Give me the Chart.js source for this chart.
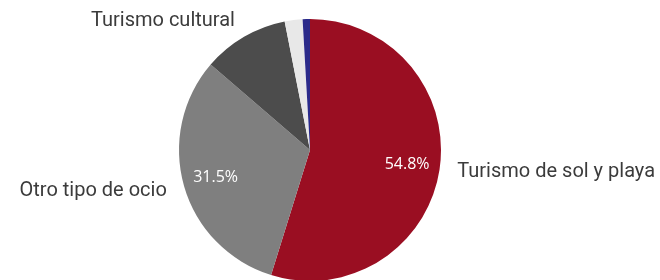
<!DOCTYPE html>
<html>
<head>
<meta charset="utf-8">
<script src="https://cdn.jsdelivr.net/npm/chart.js@4"></script>
<style>
  html, body { margin: 0; padding: 0; background: #fff; overflow: hidden; }
  #wrap { width: 660px; height: 300px; position: relative; }
</style>
</head>
<body>
<div id="wrap"><canvas id="pie"></canvas></div>
<script>
// Datos del grafico
const categorias = ["Turismo de sol y playa", "Otro tipo de ocio", "Turismo cultural", "Otros", "Negocios"];
const valores = [54.8, 31.5, 10.6, 2.2, 0.9];
const colores = ["#9a0e22", "#7f7f7f", "#4c4c4c", "#e8e8e8", "#2b2a8a"];
// que etiquetas se muestran (nombre / porcentaje)
const mostrarNombre = [true, true, true, false, false];
const mostrarPct = [true, true, false, false, false];

// Plugin para dibujar las etiquetas alrededor y dentro del pastel
const etiquetas = {
    id: 'etiquetas',
    afterDatasetsDraw(chart) {
        const ctx = chart.ctx;
        const arcs = chart.getDatasetMeta(0).data;
        arcs.forEach((arc, i) => {
            const p = arc.getProps(['x', 'y', 'startAngle', 'endAngle', 'outerRadius']);
            const mid = (p.startAngle + p.endAngle) / 2;
            ctx.save();
            if (mostrarPct[i]) {
                const r = p.outerRadius * 0.75;
                ctx.fillStyle = '#ffffff';
                ctx.font = '16px "Open Sans"';
                ctx.textAlign = 'center';
                ctx.textBaseline = 'middle';
                ctx.fillText(valores[i].toFixed(1) + '%', p.x + Math.cos(mid) * r, p.y + Math.sin(mid) * r);
            }
            if (mostrarNombre[i]) {
                const r = p.outerRadius + 18;
                const x = p.x + Math.cos(mid) * r;
                ctx.fillStyle = '#3b3b3b';
                ctx.font = '20px Roboto';
                ctx.textAlign = x > p.x ? 'left' : 'right';
                ctx.textBaseline = 'middle';
                ctx.fillText(categorias[i], x, p.y + Math.sin(mid) * r);
            }
            ctx.restore();
        });
    }
};

window.onload = function () {
    new Chart(document.getElementById('pie'), {
        type: 'pie',
        data: {
            labels: categorias,
            datasets: [{
                data: valores,
                backgroundColor: colores,
                borderWidth: 0
            }]
        },
        options: {
            responsive: true,
            maintainAspectRatio: false,
            animation: false,
            layout: { padding: { top: 19, bottom: 19, left: 179, right: 219 } },
            plugins: {
                legend: { display: false },
                tooltip: { enabled: false }
            }
        },
        plugins: [etiquetas]
    });
};
</script>
</body>
</html>
